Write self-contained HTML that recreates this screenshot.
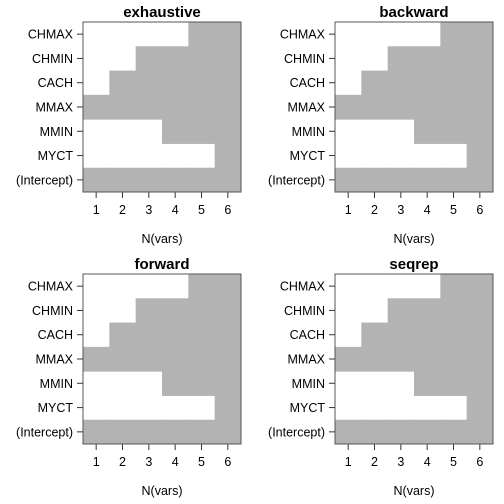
<!DOCTYPE html>
<html><head><meta charset="utf-8"><style>body{margin:0;background:#fff}svg{display:block}text{font-family:"Liberation Sans",Arial,sans-serif;fill:#000}</style></head>
<body>
<svg id="c" width="504" height="504"></svg>
<script>
const panels = ["exhaustive","backward","forward","seqrep"];
const varNames = ["(Intercept)","MYCT","MMIN","MMAX","CACH","CHMIN","CHMAX"];
const nvars = [1,2,3,4,5,6];
// first model size in which each variable (same order as varNames) enters
const enterAt = [1,6,4,1,2,3,5];
const NS="http://www.w3.org/2000/svg";
const svg=document.getElementById('c');
function mk(t,a,p){const e=document.createElementNS(NS,t);for(const k in a)e.setAttribute(k,a[k]);(p||svg).appendChild(e);return e;}
panels.forEach((name,pi)=>{
  const ox=(pi%2)*252, oy=Math.floor(pi/2)*252;
  const L=ox+83,R=ox+241,T=oy+22,B=oy+192;
  const g=mk('g',{});
  
  
  const cw=(R-L)/nvars.length, rh=(B-T)/varNames.length;
  const xs=i=>L+i*cw, ys=j=>B-(j+1)*rh;
  varNames.forEach((v,j)=>{
    nvars.forEach((n,i)=>{
      if(n>=enterAt[j]){
        const r=mk('rect',{x:xs(i),y:ys(j),width:cw+0.5,height:rh+0.5,fill:'#b3b3b3'},g);
        
        
      }
    });
    const yc=ys(j)+rh/2;
    mk('line',{x1:L-6,x2:L,y1:yc,y2:yc,stroke:'#333'},g);
    const t=mk('text',{x:L-10,y:yc+4.5,'text-anchor':'end','font-size':12.5},g);
    t.textContent=v;
    
    
  });
  nvars.forEach((n,i)=>{
    const xc=xs(i)+cw/2;
    mk('line',{x1:xc,x2:xc,y1:B,y2:B+6,stroke:'#333'},g);
    const t=mk('text',{x:xc,y:B+22,'text-anchor':'middle','font-size':12.5},g);
    t.textContent=n;
    
    
  });
  mk('rect',{x:L,y:T,width:R-L,height:B-T,fill:'none',stroke:'#555','stroke-width':1},g);
  const xt=mk('text',{x:(L+R)/2,y:oy+243,'text-anchor':'middle','font-size':12.5},g);
  xt.textContent='N(vars)';
  
  
  const tt=mk('text',{x:(L+R)/2,y:oy+17,'text-anchor':'middle','font-size':15,'font-weight':'bold'},g);
  tt.textContent=name;
  
  
});
</script>
</body></html>
